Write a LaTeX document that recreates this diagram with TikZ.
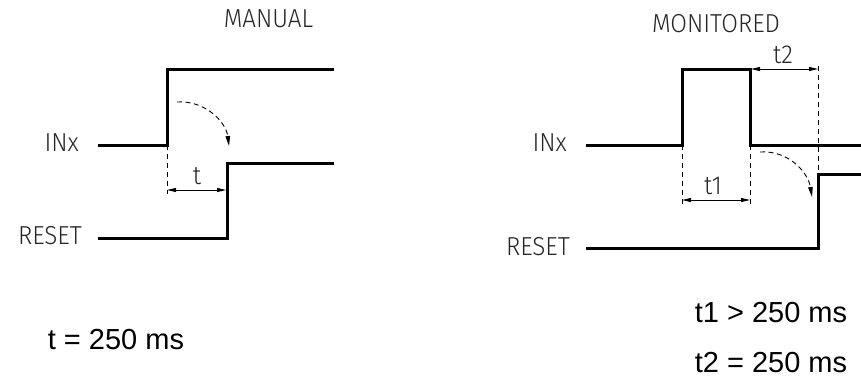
\documentclass[tikz,border=0pt]{standalone}
\usepackage{fontspec}
\usepackage{graphicx}
\setmainfont{Liberation Sans}
\newfontfamily\cad{Fira Sans}[UprightFont=* Light]
\usetikzlibrary{arrows.meta}
\tikzset{
  sig/.style={line width=3pt, line cap=butt, line join=miter},
  ext/.style={line width=0.9pt, dash pattern=on 5pt off 4pt},
  dim/.style={line width=0.9pt, {Stealth[length=9pt,width=4pt,inset=0pt]}-{Stealth[length=9pt,width=4pt,inset=0pt]}},
  flow/.style={line width=0.9pt, dash pattern=on 5pt off 3.5pt, -{Stealth[length=10pt,width=4.5pt,inset=0pt]}},
  lab/.style={inner sep=0pt, text=black!85, font=\cad\fontsize{26}{30}\selectfont},
  big/.style={inner sep=0pt, font=\fontsize{29}{34}\selectfont}
}
\newcommand{\nar}[1]{\scalebox{0.93}[1]{#1}}
\begin{document}
\begin{tikzpicture}[x=1pt,y=-1pt]
\useasboundingbox (0,0) rectangle (861,378);
% ---------- MANUAL ----------
\node[lab, anchor=base] (manual) at (268.5,27) {\nar{MANUAL}};
\node[lab, anchor=base east] (inxA) at (79,151) {\nar{INx}};
\node[lab, anchor=base east] (resetA) at (82,244) {\nar{RESET}};
\coordinate (a1) at (98,145);
\coordinate (a2) at (167,145);
\coordinate (a3) at (167,69);
\coordinate (a4) at (334,69);
\draw[sig] (a1) -- (a2) -- (a3) -- (a4);
\coordinate (b1) at (98,238);
\coordinate (b2) at (227,238);
\coordinate (b3) at (227,163);
\coordinate (b4) at (334,163);
\draw[sig] (b1) -- (b2) -- (b3) -- (b4);
\coordinate (ae) at (167,194);
\draw[ext] (a2) -- (ae);
\coordinate (d1) at (167,190);
\coordinate (d2) at (226,190);
\draw[dim] (d1) -- (d2);
\node[lab, anchor=base] (tA) at (197,184) {\nar{t}};
\coordinate (c1) at (177,102);
\coordinate (c2) at (229,146);
\draw[flow] (c1) .. controls (205,100) and (226,122) .. (c2);
\node[big, anchor=base] (eqA) at (116,349) {t = 250 ms};
% ---------- MONITORED ----------
\node[lab, anchor=base] (monitored) at (716,32) {\nar{MONITORED}};
\node[lab, anchor=base east] (inxB) at (567,151) {\nar{INx}};
\node[lab, anchor=base east] (resetB) at (570,255) {\nar{RESET}};
\coordinate (p1) at (586,145);
\coordinate (p2) at (682,145);
\coordinate (p3) at (682,69);
\coordinate (p4) at (750,69);
\coordinate (p5) at (750,145);
\coordinate (p6) at (862,145);
\draw[sig] (p1) -- (p2) -- (p3) -- (p4) -- (p5) -- (p6);
\coordinate (q1) at (586,248);
\coordinate (q2) at (818,248);
\coordinate (q3) at (818,174);
\coordinate (q4) at (862,174);
\draw[sig] (q1) -- (q2) -- (q3) -- (q4);
\coordinate (e1) at (682,204);
\coordinate (e2) at (750,204);
\coordinate (e3) at (818,66);
\draw[ext] (p2) -- (e1);
\draw[ext] (p5) -- (e2);
\draw[ext] (e3) -- (q3);
\coordinate (f1) at (682,200);
\coordinate (f2) at (750,200);
\draw[dim] (f1) -- (f2);
\node[lab, anchor=base] (t1) at (713,194) {\nar{t1}};
\coordinate (g1) at (751,69);
\coordinate (g2) at (818,69);
\draw[dim] (g1) -- (g2);
\node[lab, anchor=base] (t2) at (783,63) {\nar{t2}};
\coordinate (h1) at (760,152);
\coordinate (h2) at (812,197);
\draw[flow] (h1) .. controls (788,150) and (808,172) .. (h2);
\node[big, anchor=base] (eqB) at (771,322) {t1 > 250 ms};
\node[big, anchor=base] (eqC) at (771,372) {t2 = 250 ms};
\end{tikzpicture}
\end{document}
